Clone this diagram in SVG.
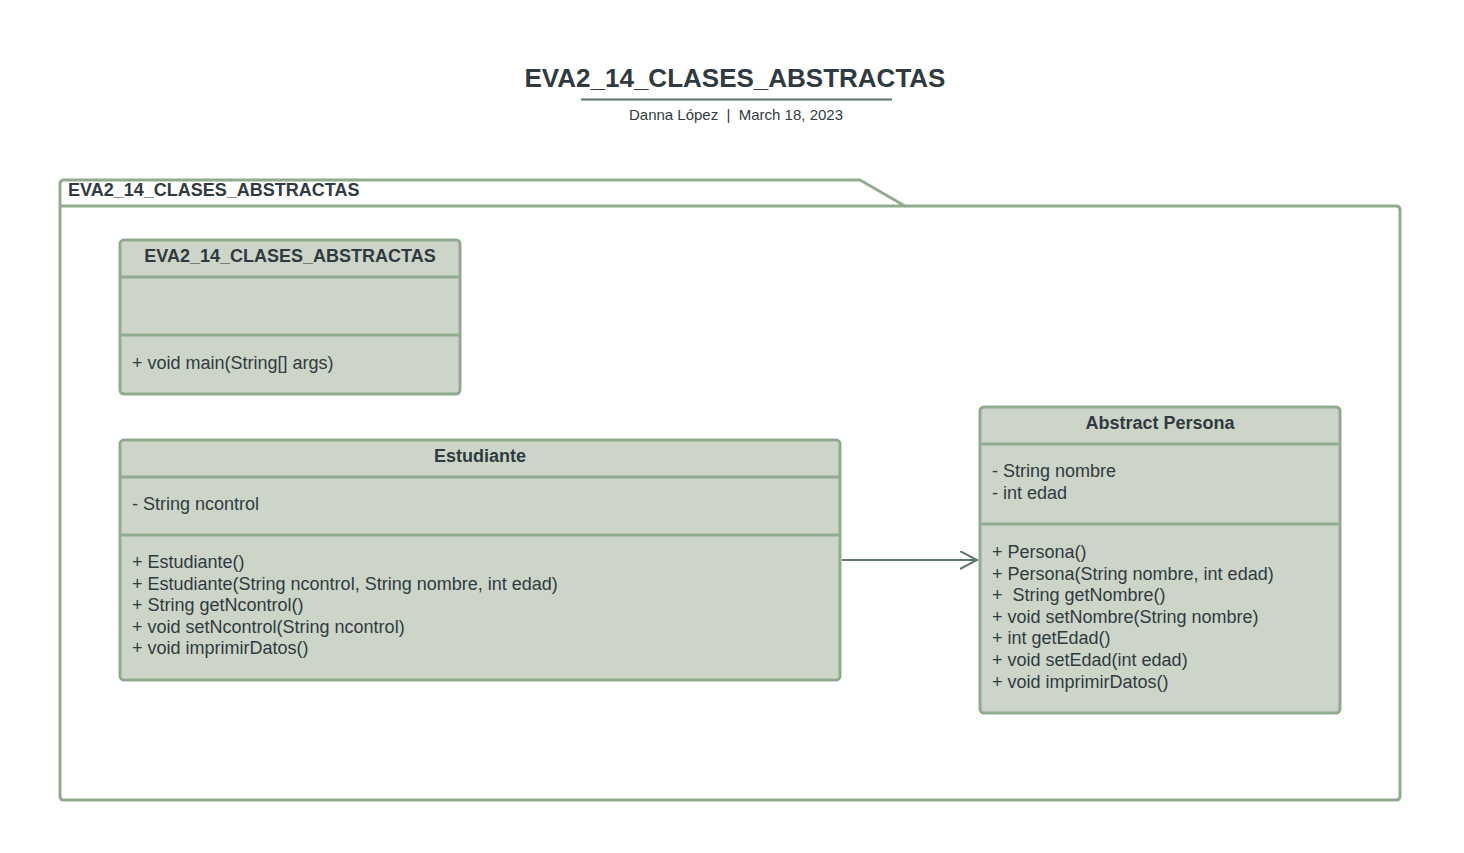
<svg xmlns="http://www.w3.org/2000/svg" width="1464" height="853" viewBox="0 0 1464 853">
<style>
text{font-family:"Liberation Sans",Arial,sans-serif;fill:#2f3b40}
.box{fill:#cdd5c9;stroke:#8fac8f;stroke-width:3}
.div{stroke:#8fac8f;stroke-width:3}
.t{font-size:18px;font-weight:bold}
.m{font-size:18px}
.c{text-anchor:middle}
</style>
<defs>
<marker id="open" markerWidth="20" markerHeight="20" refX="17" refY="9" orient="auto" markerUnits="userSpaceOnUse">
<path d="M0,0 L17,9 L0,18" fill="none" stroke="#5e7a6e" stroke-width="2"/>
</marker>
</defs>
<rect width="1464" height="853" fill="#ffffff"/>
<g id="title">
<text x="735" y="87" class="c" style="font-size:26px;font-weight:bold">EVA2_14_CLASES_ABSTRACTAS</text>
<line x1="581" y1="99.5" x2="892" y2="99.5" stroke="#5c7467" stroke-width="2"/>
<text x="736" y="120" class="c" style="font-size:15px" xml:space="preserve">Danna López  |  March 18, 2023</text>
</g>
<g id="package">
<path d="M60,206 L60,184 Q60,180 64,180 L860,180 L905,206 L1396,206 Q1400,206 1400,210 L1400,796 Q1400,800 1396,800 L64,800 Q60,800 60,796 Z" fill="none" stroke="#8fac8f" stroke-width="3" stroke-linejoin="round"/>
<line x1="60" y1="206" x2="905" y2="206" class="div"/>
<text x="68" y="196" class="t">EVA2_14_CLASES_ABSTRACTAS</text>
</g>
<g id="main">
<rect x="120" y="240" width="340" height="154" rx="4" class="box"/>
<line x1="120" y1="277" x2="460" y2="277" class="div"/>
<line x1="120" y1="335" x2="460" y2="335" class="div"/>
<text x="290" y="262" class="t c">EVA2_14_CLASES_ABSTRACTAS</text>
<text x="132" y="369" class="m">+ void main(String[] args)</text>
</g>
<g id="estudiante">
<rect x="120" y="440" width="720" height="240" rx="4" class="box"/>
<line x1="120" y1="477" x2="840" y2="477" class="div"/>
<line x1="120" y1="535" x2="840" y2="535" class="div"/>
<text x="480" y="462" class="t c">Estudiante</text>
<text x="132" y="510" class="m">- String ncontrol</text>
<text class="m">
<tspan x="132" y="568">+ Estudiante()</tspan>
<tspan x="132" y="590">+ Estudiante(String ncontrol, String nombre, int edad)</tspan>
<tspan x="132" y="611">+ String getNcontrol()</tspan>
<tspan x="132" y="633">+ void setNcontrol(String ncontrol)</tspan>
<tspan x="132" y="654">+ void imprimirDatos()</tspan>
</text>
</g>
<g id="persona">
<rect x="980" y="407" width="360" height="306" rx="4" class="box"/>
<line x1="980" y1="444" x2="1340" y2="444" class="div"/>
<line x1="980" y1="524" x2="1340" y2="524" class="div"/>
<text x="1160" y="429" class="t c">Abstract Persona</text>
<text class="m">
<tspan x="992" y="477">- String nombre</tspan>
<tspan x="992" y="499">- int edad</tspan>
</text>
<text class="m" xml:space="preserve">
<tspan x="992" y="558">+ Persona()</tspan>
<tspan x="992" y="580">+ Persona(String nombre, int edad)</tspan>
<tspan x="992" y="601">+  String getNombre()</tspan>
<tspan x="992" y="623">+ void setNombre(String nombre)</tspan>
<tspan x="992" y="644">+ int getEdad()</tspan>
<tspan x="992" y="666">+ void setEdad(int edad)</tspan>
<tspan x="992" y="688">+ void imprimirDatos()</tspan>
</text>
</g>
<g id="connectors">
<line x1="842" y1="560" x2="977" y2="560" stroke="#5e7a6e" stroke-width="2" marker-end="url(#open)"/>
</g>
</svg>
